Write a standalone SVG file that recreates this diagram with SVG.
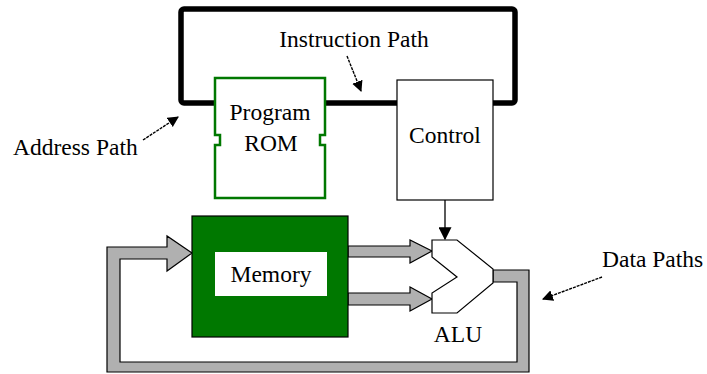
<svg xmlns="http://www.w3.org/2000/svg" width="707" height="374" viewBox="0 0 707 374">
  <style>
    .lbl { font-family: "Liberation Serif", "Times New Roman", serif; font-size: 23.5px; fill: #000; }
    .mid { text-anchor: middle; }
    .bus { fill: #b0b0b0; stroke: #000; stroke-width: 1.2; stroke-linejoin: miter; }
    .ptr { fill: none; stroke: #000; stroke-width: 1.4; stroke-dasharray: 3 1; marker-end: url(#head); }
  </style>
  <defs>
    <marker id="head" viewBox="0 0 10 10" refX="9" refY="5" markerWidth="11" markerHeight="11" markerUnits="userSpaceOnUse" orient="auto">
      <path d="M0,0 L10,5 L0,10 Z" fill="#000"/>
    </marker>
    <marker id="headBig" viewBox="0 0 10 10" refX="9" refY="5" markerWidth="13" markerHeight="13" markerUnits="userSpaceOnUse" orient="auto">
      <path d="M0,0 L10,5 L0,10 Z" fill="#000"/>
    </marker>
  </defs>

  <!-- connectors: instruction/address loop, data buses, pointer arrows -->
  <g id="connectors">
    <rect x="181" y="9" width="334" height="94" rx="3" fill="none" stroke="#000" stroke-width="5.5"/>
    <!-- ALU output fed back round to memory -->
    <path class="bus" d="M493,270 L529,270 L529,372 L107,372 L107,247 L167,247 L167,236 L192,253 L167,271 L167,259 L120,259 L120,362 L517,362 L517,282 L493,282 Z"/>
    <!-- memory to ALU operands -->
    <path class="bus" d="M348,246 L410,246 L410,240 L432,251 L410,263 L410,257 L348,257 Z"/>
    <path class="bus" d="M348,293 L410,293 L410,287 L432,299 L410,311 L410,305 L348,305 Z"/>
    <!-- control to ALU -->
    <line x1="445" y1="200" x2="445" y2="239" stroke="#000" stroke-width="1.3" marker-end="url(#headBig)"/>
    <!-- label pointers -->
    <line class="ptr" x1="347" y1="56" x2="361" y2="91"/>
    <line class="ptr" x1="143" y1="140" x2="178" y2="117"/>
    <line class="ptr" x1="602" y1="277" x2="543" y2="299"/>
  </g>

  <g id="program-rom">
    <path d="M215,78 L325,78 L325,135 L320,135 L320,145 L325,145 L325,198 L215,198 L215,145 L220,145 L220,135 L215,135 Z" fill="#fff" stroke="#007800" stroke-width="2.5"/>
    <text class="lbl mid" x="270" y="120">Program</text>
    <text class="lbl mid" x="271" y="151">ROM</text>
  </g>

  <g id="control">
    <rect x="397" y="80" width="96" height="120" fill="#fff" stroke="#000" stroke-width="1.2"/>
    <text class="lbl mid" x="445" y="143">Control</text>
  </g>

  <g id="memory">
    <rect x="192" y="216" width="156" height="121" fill="#007800" stroke="#000" stroke-width="1.2"/>
    <rect x="215" y="252" width="112" height="44" fill="#fff"/>
    <text class="lbl mid" x="271" y="282">Memory</text>
  </g>

  <g id="alu">
    <path d="M432,240 L457,240 L493,269 L493,283 L457,313 L432,313 L432,293 L457,277 L432,257 Z" fill="#fff" stroke="#000" stroke-width="1.2"/>
    <text class="lbl mid" x="458" y="342">ALU</text>
  </g>

  <g id="labels">
    <text class="lbl mid" x="354" y="47">Instruction Path</text>
    <text class="lbl" x="13" y="155">Address Path</text>
    <text class="lbl" x="602" y="267">Data Paths</text>
  </g>
</svg>
